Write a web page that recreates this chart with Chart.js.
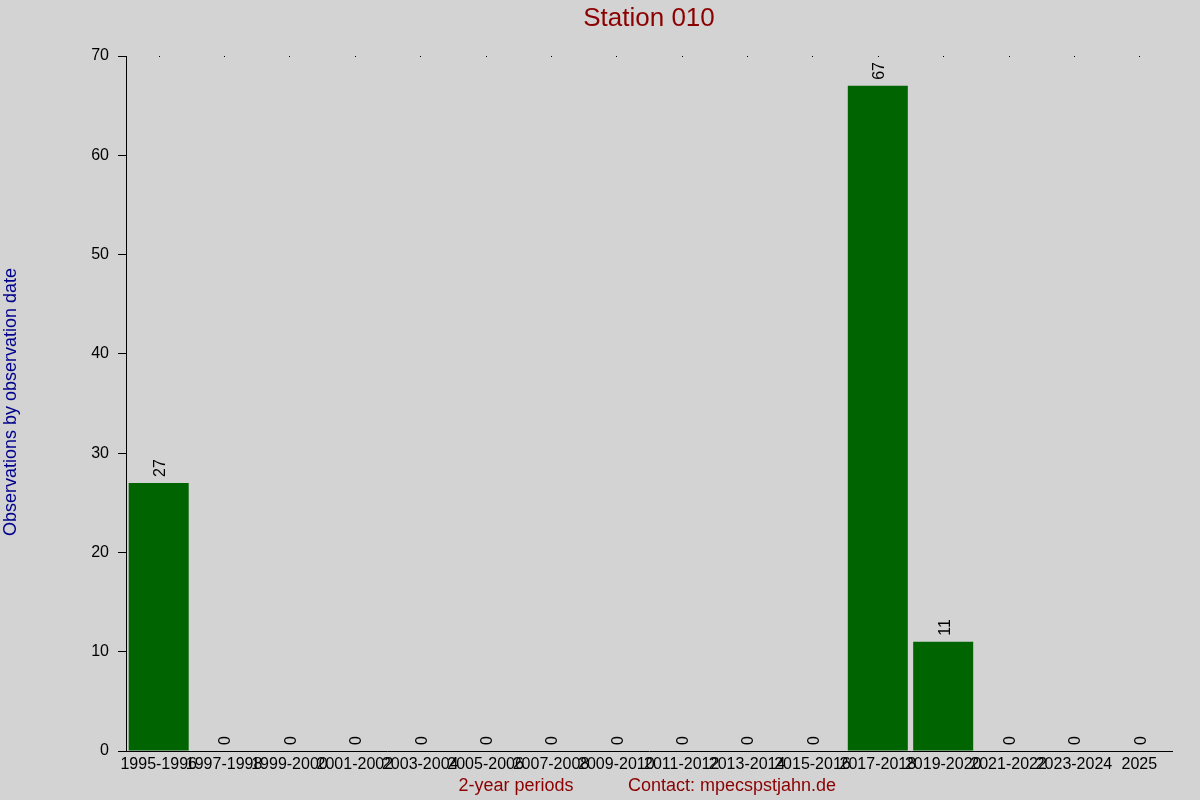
<!DOCTYPE html>
<html lang="en">
<head>
  <meta charset="UTF-8">
  <title>Station 010</title>
  <script src="https://cdn.jsdelivr.net/npm/chart.js"></script>
  <style>
    html, body { margin: 0; padding: 0; background: #d3d3d3; }
    canvas { display: block; }
  </style>
</head>
<body>
<canvas id="chart" width="1200" height="800"></canvas>

<script>
  // data
  var periods = ['1995-1996', '1997-1998', '1999-2000', '2001-2002', '2003-2004', '2005-2006',
                 '2007-2008', '2009-2010', '2011-2012', '2013-2014', '2015-2016', '2017-2018',
                 '2019-2020', '2021-2022', '2023-2024', '2025'];
  var observations = [27, 0, 0, 0, 0, 0, 0, 0, 0, 0, 0, 67, 11, 0, 0, 0];
  var yTicks = [0, 10, 20, 30, 40, 50, 60, 70];

  var FONT = '"Liberation Sans", Arial, sans-serif';

  // title, axis titles, value labels and the little dots along the top
  var textPlugin = {
    id: 'texts',
    afterDatasetsDraw: function(chart) {
      var ctx = chart.ctx;
      var area = chart.chartArea;
      var xs = chart.scales.x;
      ctx.save();

      // value labels, rotated
      ctx.fillStyle = '#000';
      ctx.font = '16px ' + FONT;
      ctx.textAlign = 'left';
      ctx.textBaseline = 'middle';
      chart.getDatasetMeta(0).data.forEach(function(bar, i) {
        ctx.save();
        ctx.translate(bar.x + 2, bar.y - 6);
        ctx.rotate(-Math.PI / 2);
        ctx.fillText(String(observations[i]), 0, 0);
        ctx.restore();
      });

      // dots at the top of the plot
      for (var i = 0; i < periods.length; i++) {
        ctx.fillRect(Math.round(xs.getPixelForValue(i)), area.top, 1, 1);
      }

      // title
      ctx.fillStyle = '#8b0000';
      ctx.font = '26px ' + FONT;
      ctx.textAlign = 'center';
      ctx.textBaseline = 'middle';
      ctx.fillText('Station 010', (area.left + area.right) / 2, 19);

      // bottom lines
      ctx.font = '18px ' + FONT;
      ctx.fillText('2-year periods', 516, 786);
      ctx.fillText('Contact: mpecspstjahn.de', 732, 786);

      // y title
      ctx.fillStyle = '#00008b';
      ctx.save();
      ctx.translate(11, 402);
      ctx.rotate(-Math.PI / 2);
      ctx.fillText('Observations by observation date', 0, 0);
      ctx.restore();

      ctx.restore();
    }
  };

  var chart = new Chart(document.getElementById('chart').getContext('2d'), {
    type: 'bar',
    data: {
      labels: periods,
      datasets: [{
        data: observations,
        backgroundColor: '#006400',
        borderWidth: 0,
        barPercentage: 0.918,
        categoryPercentage: 1.0
      }]
    },
    options: {
      responsive: false,
      animation: false,
      devicePixelRatio: 1,
      layout: { padding: { top: 56, right: 28, bottom: 0, left: 0 } },
      plugins: {
        legend: { display: false },
        tooltip: { enabled: false },
        title: { display: false }
      },
      scales: {
        x: {
          grid: { display: true, drawOnChartArea: false, drawTicks: false },
          border: { display: true, color: '#000', width: 1 },
          ticks: {
            color: '#000',
            font: { family: FONT, size: 16 },
            padding: 4,
            maxRotation: 0,
            minRotation: 0,
            autoSkip: false
          },
          afterFit: function(scale) { scale.height = 49; }
        },
        y: {
          min: 0,
          max: 70,
          afterBuildTicks: function(scale) {
            scale.ticks = yTicks.map(function(v) { return { value: v }; });
          },
          grid: { drawOnChartArea: false, drawTicks: true, tickLength: 8, color: '#000' },
          border: { display: true, color: '#000', width: 1 },
          ticks: {
            color: '#000',
            font: { family: FONT, size: 16 },
            padding: 9
          },
          afterFit: function(scale) { scale.width = 126; }
        }
      }
    },
    plugins: [textPlugin]
  });
</script>
</body>
</html>
